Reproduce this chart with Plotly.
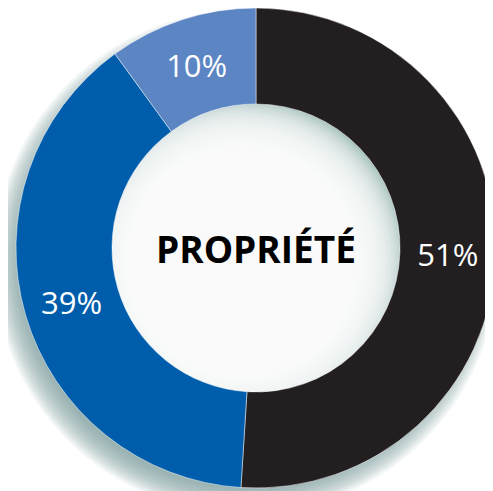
import plotly.graph_objects as go

# data
labels = ['A', 'B', 'C']
values = [51, 39, 10]
colors = ['#231f20', '#005dab', '#5c85c4']
center_label = 'PROPRIÉTÉ'

W, H = 493, 491
# pie centre / radius in figure pixels (y from top)
cx, cy, r_out = 248, 240, 240
hole = 0.6
r_in = r_out * hole


def circle(x, y, r, fill):
    # circle in pixel units -> paper coords
    return dict(
        type='circle', xref='paper', yref='paper', layer='below',
        x0=(x - r) / W, x1=(x + r) / W,
        y0=1 - (y + r) / H, y1=1 - (y - r) / H,
        fillcolor=fill, line=dict(width=0),
    )


shapes = []
# soft drop shadow outside the ring (down-left)
for i in range(14):
    shapes.append(circle(cx - 10, cy + 14, r_out - 14 + i * 2.0, 'rgba(120,160,152,0.09)'))
# inner hole: teal tint, then white blurred disc offset down-left
shapes.append(circle(cx, cy, r_in + 1, '#a9c4bf'))
for i in range(30):
    shapes.append(circle(cx - 14, cy + 14, r_in + 18 - i * 2.5, 'rgba(255,255,255,0.15)'))

fig = go.Figure(
    go.Pie(
        labels=labels,
        values=values,
        hole=hole,
        sort=False,
        direction='clockwise',
        rotation=0,
        domain=dict(x=[(cx - r_out) / W, (cx + r_out) / W],
                    y=[1 - (cy + r_out) / H, 1 - (cy - r_out) / H]),
        marker=dict(colors=colors, line=dict(color='rgba(255,255,255,0.6)', width=0.8)),
        texttemplate='%{value}%',
        textposition='inside',
        insidetextorientation='horizontal',
        textfont=dict(family='Open Sans', size=31, color='white'),
        hoverinfo='skip',
        showlegend=False,
    )
)

fig.update_layout(
    width=W,
    height=H,
    margin=dict(l=0, r=0, t=0, b=0),
    paper_bgcolor='white',
    plot_bgcolor='white',
    shapes=shapes,
    annotations=[dict(
        text='<b>' + center_label + '</b>',
        x=cx / W, y=1 - cy / H, xref='paper', yref='paper',
        showarrow=False,
        font=dict(family='Open Sans', size=37, color='black'),
    )],
)

fig.write_html('out.html')
